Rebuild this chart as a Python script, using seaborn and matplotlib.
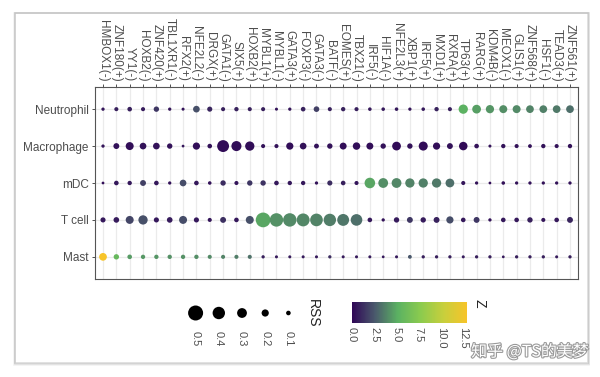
import matplotlib
matplotlib.use("Agg")
import matplotlib.pyplot as plt
import matplotlib.patheffects as pe
from matplotlib.patches import Rectangle
from matplotlib.colors import LinearSegmentedColormap, Normalize
from matplotlib.cm import ScalarMappable
import pandas as pd
import seaborn as sns

# Regulon names (columns) and cell types (rows)
tfs = ["HMBOX1(-)", "ZNF180(+)", "YY1(-)", "HOXB2(-)", "ZNF420(+)", "TBL1XR1(-)",
       "RFX2(+)", "NFE2L2(-)", "DRGX(+)", "GATA1(-)", "SIX5(+)", "HOXB2(+)",
       "MYBL1(+)", "MYBL1(-)", "GATA3(+)", "FOXP3(-)", "GATA3(-)", "BATF(-)",
       "EOMES(+)", "TBX21(-)", "IRF5(-)", "HIF1A(-)", "NFE2L3(+)", "XBP1(+)",
       "IRF5(+)", "MXD1(+)", "RXRA(+)", "TP63(+)", "RARG(+)", "KDM4B(-)",
       "MEOX1(-)", "GLIS1(+)", "ZNF568(+)", "HSF1(-)", "TEAD3(+)", "ZNF561(+)"]
cells = ["Neutrophil", "Macrophage", "mDC", "T cell", "Mast"]

# RSS (dot size)
rss_neutrophil = [0.05, 0.08, 0.10, 0.08, 0.13, 0.05, 0.04, 0.18, 0.12, 0.08, 0.09, 0.08,
                  0.08, 0.04, 0.05, 0.10, 0.14, 0.08, 0.09, 0.08, 0.06, 0.06, 0.06, 0.05,
                  0.06, 0.09, 0.08, 0.28, 0.26, 0.24, 0.23, 0.23, 0.22, 0.22, 0.22, 0.22]
rss_macrophage = [0.05, 0.15, 0.23, 0.18, 0.18, 0.13, 0.03, 0.20, 0.10, 0.38, 0.31, 0.28,
                  0.08, 0.08, 0.20, 0.18, 0.11, 0.13, 0.19, 0.21, 0.19, 0.13, 0.26, 0.13,
                  0.27, 0.20, 0.15, 0.25, 0.10, 0.04, 0.09, 0.08, 0.07, 0.09, 0.08, 0.09]
rss_mdc = [0.03, 0.10, 0.09, 0.15, 0.10, 0.05, 0.18, 0.10, 0.06, 0.13, 0.08, 0.13,
           0.13, 0.10, 0.09, 0.09, 0.05, 0.12, 0.10, 0.08, 0.33, 0.30, 0.30, 0.28,
           0.28, 0.28, 0.26, 0.08, 0.05, 0.03, 0.06, 0.05, 0.05, 0.05, 0.05, 0.05]
rss_tcell = [0.12, 0.14, 0.23, 0.28, 0.12, 0.14, 0.23, 0.12, 0.08, 0.15, 0.10, 0.23,
             0.49, 0.44, 0.44, 0.42, 0.41, 0.40, 0.38, 0.37, 0.10, 0.05, 0.13, 0.15,
             0.13, 0.15, 0.20, 0.10, 0.15, 0.05, 0.10, 0.10, 0.13, 0.08, 0.10, 0.15]
rss_mast = [0.22, 0.13, 0.10, 0.09, 0.09, 0.09, 0.09, 0.09, 0.08, 0.08, 0.08, 0.08,
            0.05, 0.04, 0.04, 0.04, 0.04, 0.05, 0.04, 0.04, 0.04, 0.03, 0.04, 0.07,
            0.05, 0.05, 0.05, 0.04, 0.05, 0.05, 0.03, 0.05, 0.05, 0.05, 0.04, 0.05]

# Z score (dot colour)
z_neutrophil = [0.5, 0.8, 0.8, 0.7, 1.5, 0.5, 0.4, 2.3, 1.0, 0.8, 0.9, 0.8,
                0.8, 0.4, 0.5, 0.9, 1.8, 0.8, 0.9, 0.8, 0.6, 0.6, 0.6, 0.5,
                0.6, 0.9, 0.8, 5.2, 4.6, 4.3, 4.1, 4.0, 3.8, 3.7, 3.5, 3.2]
z_macrophage = [0.5, 0.4, 0.3, 0.4, 0.4, 0.4, 0.5, 0.3, 0.4, 0.2, 0.3, 0.3,
                0.4, 0.4, 0.3, 0.4, 0.4, 0.4, 0.3, 0.3, 0.3, 0.4, 0.2, 0.4,
                0.2, 0.3, 0.4, 0.2, 0.4, 0.5, 0.4, 0.4, 0.4, 0.4, 0.4, 0.4]
z_mdc = [0.3, 0.6, 0.6, 1.8, 0.6, 0.4, 2.2, 0.6, 0.4, 1.2, 0.5, 1.5,
         1.4, 0.6, 0.6, 0.6, 0.4, 1.2, 0.8, 0.5, 4.8, 4.1, 3.9, 3.8,
         3.7, 3.5, 3.2, 0.5, 0.4, 0.3, 0.4, 0.4, 0.4, 0.4, 0.4, 0.4]
z_tcell = [0.6, 0.7, 2.0, 2.3, 0.6, 0.7, 2.2, 0.6, 0.5, 1.3, 0.6, 2.3,
           4.8, 4.2, 4.0, 3.9, 3.8, 3.6, 3.4, 3.2, 0.6, 0.4, 0.7, 1.5,
           0.7, 0.9, 2.2, 0.6, 1.5, 0.4, 0.6, 0.6, 0.8, 0.5, 0.6, 1.0]
z_mast = [12.9, 5.8, 4.5, 4.4, 4.3, 4.2, 4.2, 4.1, 4.0, 3.8, 3.6, 3.3,
          0.8, 0.7, 0.7, 0.7, 0.7, 1.2, 0.7, 0.7, 0.7, 0.6, 0.7, 2.5,
          0.8, 0.8, 0.8, 0.7, 0.8, 0.8, 0.6, 0.8, 0.8, 0.8, 0.7, 0.8]

legend_rss = [0.5, 0.4, 0.3, 0.2, 0.1]
z_ticks = [0, 2.5, 5, 7.5, 10, 12.5]
z_max = 12.9

# long table
rows = []
for cell, rss, z in zip(cells,
                        [rss_neutrophil, rss_macrophage, rss_mdc, rss_tcell, rss_mast],
                        [z_neutrophil, z_macrophage, z_mdc, z_tcell, z_mast]):
    for tf, r, zz in zip(tfs, rss, z):
        rows.append({"tf": tf, "cell": cell, "rss": r, "z": zz})
df = pd.DataFrame(rows)

cmap = LinearSegmentedColormap.from_list(
    "z_cmap", [(0.0, "#2f0656"), (0.2, "#4a5a6c"), (0.4, "#5bb262"),
               (0.6, "#8ccb4e"), (0.8, "#c8cf3c"), (1.0, "#f7c42a")])


def dot_area(v):
    # diameter in pixels grows linearly with RSS, converted to points^2
    return ((2 + 26 * v) * 72 / 100) ** 2


sizes = {v: dot_area(v) for v in df["rss"].unique()}

sns.set_style("white")
plt.rcParams["font.family"] = ["Liberation Sans", "DejaVu Sans"]

fig = plt.figure(figsize=(6, 3.77), dpi=100)
W, H = 600, 377

# screenshot-like frame with soft shadow
for i, a in enumerate([0.10, 0.18, 0.30]):
    fig.patches.append(Rectangle((14 / W + i * 0.001, 1 - 365 / H + i * 0.002),
                                 (575 - i) / W, (352 - i) / H, transform=fig.transFigure,
                                 facecolor="none", edgecolor="#888888", lw=1.2, alpha=a))

ax = fig.add_axes([95 / W, 1 - 279 / H, 483 / W, 192 / H])
sns.scatterplot(data=df, x="tf", y="cell", size="rss", sizes=sizes,
                hue="z", palette=cmap, hue_norm=(0, z_max),
                edgecolor="none", linewidth=0, legend=False, ax=ax, zorder=3)

ax.set_xlim(-0.6, len(tfs) - 0.4)
ax.set_ylim(len(cells) - 0.4, -0.6)
ax.set_xlabel("")
ax.set_ylabel("")
ax.grid(True, color="#ebebeb", lw=0.9)
ax.set_axisbelow(True)
for s in ax.spines.values():
    s.set_color("#555555")
    s.set_linewidth(0.8)

ax.xaxis.tick_top()
ax.tick_params(axis="x", top=True, bottom=False, labeltop=True, labelbottom=False,
               length=2.5, width=0.6, color="#333333", pad=1.5, labelsize=8.5,
               labelcolor="#4d4d4d")
ax.tick_params(axis="y", left=True, length=2.5, width=0.6, color="#333333", pad=2,
               labelsize=8.5, labelcolor="#4d4d4d")
for lbl in ax.get_xticklabels():
    lbl.set_rotation(270)
    lbl.set_rotation_mode("anchor")
    lbl.set_ha("right")
    lbl.set_va("center")

# size legend (reversed order)
lax = fig.add_axes([184 / W, 1 - 324 / H, 116 / W, 22 / H])
lax.scatter(range(len(legend_rss)), [0] * len(legend_rss),
            s=[dot_area(v) for v in legend_rss], color="black", edgecolor="none")
lax.set_xlim(-0.5, len(legend_rss) - 0.5)
lax.set_ylim(-1, 1)
lax.axis("off")
for i, v in enumerate(legend_rss):
    fig.text((195.6 + i * 23.2) / W, 1 - 331 / H, f"{v:.1f}", rotation=270,
             ha="center", va="top", fontsize=8, color="#4d4d4d")
fig.text(313 / W, 1 - 299 / H, "RSS", rotation=270, ha="center", va="top",
         fontsize=10, color="#222222")

# colour bar
cax = fig.add_axes([352 / W, 1 - 323 / H, 115 / W, 21 / H])
sm = ScalarMappable(norm=Normalize(0, z_max), cmap=cmap)
cb = fig.colorbar(sm, cax=cax, orientation="horizontal")
cb.outline.set_visible(False)
cb.set_ticks(z_ticks)
cb.set_ticklabels([f"{t:.1f}" for t in z_ticks])
cax.xaxis.set_ticks_position("both")
cax.tick_params(axis="x", direction="in", color="white", length=3.5, width=0.7,
                labelsize=8, labelcolor="#4d4d4d", pad=3)
for lbl in cax.get_xticklabels():
    lbl.set_rotation(270)
    lbl.set_ha("center")
    lbl.set_va("top")
fig.text(480 / W, 1 - 299 / H, "Z", rotation=270, ha="center", va="top",
         fontsize=10, color="#222222")

# watermark
fig.text(530 / W, 1 - 352 / H, "知乎 @TS的美梦", ha="center", va="center", fontsize=11.5,
         color="white", family=["Noto Sans CJK SC", "DejaVu Sans"],
         path_effects=[pe.withStroke(linewidth=1.6, foreground="#9a9a9a")])

fig.savefig("out.png", dpi=100)
